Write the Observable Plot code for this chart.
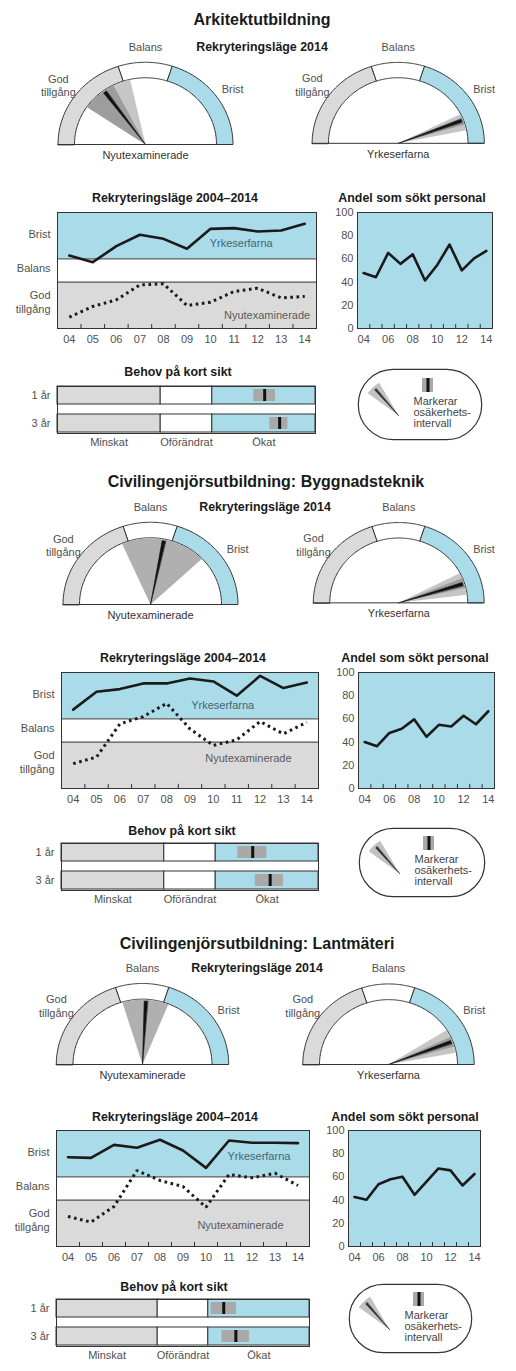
<!DOCTYPE html>
<html><head><meta charset="utf-8">
<script src="https://cdn.jsdelivr.net/npm/d3@7"></script>
<script src="https://cdn.jsdelivr.net/npm/@observablehq/plot@0.6"></script>
<style>
body{margin:0;background:#fff;}
#page{position:relative;width:516px;height:1371px;overflow:hidden;background:#fff;font-family:"Liberation Sans",Arial,Helvetica,sans-serif;}
.t{position:absolute;transform:translate(-50%,-50%);white-space:nowrap;color:#1a1a1a;font-weight:bold;line-height:1;}
</style></head><body><div id="page"></div>
<script>
// ---------- shared categories / labels ----------
const years = [2004, 2005, 2006, 2007, 2008, 2009, 2010, 2011, 2012, 2013, 2014];
const yearLabels = ["04", "05", "06", "07", "08", "09", "10", "11", "12", "13", "14"];
const andelYearLabels = ["04", "06", "08", "10", "12", "14"];
const andelTicks = [0, 20, 40, 60, 80, 100];
const bandEdges = [0, 40, 60, 100];
const levelNames = ["God\ntillgång", "Balans", "Brist"];
const behovNames = ["Minskat", "Oförändrat", "Ökat"];
const behovRows = ["1 år", "3 år"];
const groupNames = ["Nyutexaminerade", "Yrkeserfarna"];
const sectionTitles = ["Arkitektutbildning", "Civilingenjörsutbildning: Byggnadsteknik", "Civilingenjörsutbildning: Lantmäteri"];
const subTitle = "Rekryteringsläge 2014";
const lineTitle = "Rekryteringsläge 2004–2014";
const andelTitle = "Andel som sökt personal";
const behovTitle = "Behov på kort sikt";
const legendText = "Markerar\nosäkerhets-\nintervall";
const legendNeedle = 27;
const legendWedge = [20, 33];

// ---------- Arkitektutbildning ----------
const arkYrkeserfarna = [62.9, 57.2, 71.0, 80.8, 77.3, 68.7, 85.9, 86.5, 83.6, 84.5, 90.2];
const arkNyutexaminerade = [9.8, 19.0, 24.7, 37.6, 38.5, 19.8, 22.7, 31.9, 34.7, 26.4, 27.6];
const arkAndel = [47.8, 44.2, 65.2, 55.7, 64.0, 41.4, 54.8, 72.4, 50.1, 60.4, 66.9];
const arkGaugeNeedle = [30, 88.4];
const arkGaugeLow = [19, 85.3];
const arkGaugeHigh = [43, 93.6];
const arkGaugeCoreLow = [19, 87];
const arkGaugeCoreHigh = [35, 90.7];
const arkBehovMid = [80.3, 86.1];
const arkBehovLow = [76.1, 82.3];
const arkBehovHigh = [84.5, 89.3];

// ---------- Byggnadsteknik ----------
const byggYrkeserfarna = [68.0, 83.4, 85.7, 90.6, 90.6, 94.9, 92.3, 80.0, 97.1, 86.6, 91.4];
const byggNyutexaminerade = [21.4, 27.1, 55.7, 62.0, 73.4, 51.4, 37.1, 42.0, 57.7, 47.1, 57.1];
const byggAndel = [40.1, 36.5, 47.9, 51.5, 59.6, 44.6, 54.9, 53.5, 62.7, 55.4, 66.6];
const byggGaugeNeedle = [56.2, 90.3];
const byggGaugeLow = [36.8, 84.8];
const byggGaugeHigh = [75.9, 96];
const byggGaugeCoreLow = [null, 87.5];
const byggGaugeCoreHigh = [null, 92.5];
const byggBehovMid = [74.4, 81.2];
const byggBehovLow = [68.6, 75.4];
const byggBehovHigh = [79.9, 86.4];

// ---------- Lantmäteri ----------
const lantYrkeserfarna = [77.0, 76.4, 87.6, 85.1, 92.0, 82.8, 67.8, 91.4, 89.4, 89.4, 89.1];
const lantNyutexaminerade = [25.9, 21.0, 34.5, 65.5, 56.9, 51.7, 33.9, 62.1, 59.2, 63.2, 52.6];
const lantAndel = [42.6, 40.3, 53.7, 58.0, 60.2, 44.6, 56.0, 67.3, 65.6, 52.6, 62.5];
const lantGaugeNeedle = [51.6, 88.4];
const lantGaugeLow = [40.6, 82.1];
const lantGaugeHigh = [62.2, 94.2];
const lantGaugeCoreLow = [null, 86];
const lantGaugeCoreHigh = [null, 91];
const lantBehovMid = [66.1, 70.9];
const lantBehovLow = [61.1, 65.4];
const lantBehovHigh = [71.1, 76.3];

const sections = [
  {yrke: arkYrkeserfarna, nyut: arkNyutexaminerade, andel: arkAndel, needle: arkGaugeNeedle, lo: arkGaugeLow, hi: arkGaugeHigh, cLo: arkGaugeCoreLow, cHi: arkGaugeCoreHigh, bMid: arkBehovMid, bLo: arkBehovLow, bHi: arkBehovHigh},
  {yrke: byggYrkeserfarna, nyut: byggNyutexaminerade, andel: byggAndel, needle: byggGaugeNeedle, lo: byggGaugeLow, hi: byggGaugeHigh, cLo: byggGaugeCoreLow, cHi: byggGaugeCoreHigh, bMid: byggBehovMid, bLo: byggBehovLow, bHi: byggBehovHigh},
  {yrke: lantYrkeserfarna, nyut: lantNyutexaminerade, andel: lantAndel, needle: lantGaugeNeedle, lo: lantGaugeLow, hi: lantGaugeHigh, cLo: lantGaugeCoreLow, cHi: lantGaugeCoreHigh, bMid: lantBehovMid, bLo: lantBehovLow, bHi: lantBehovHigh}
];

// ---------- layout ----------
const layouts = [
  {title: [262, 20], sub: [262, 47], base: 144,
   gauges: [{cx: 144.5, rOut: 87.5, rIn: 71}, {cx: 398.5, rOut: 87, rIn: 70.5}],
   line: {left: 57, right: 316, top: 212, bottom: 328}, lineTitle: [175, 198],
   andel: {left: 357, right: 492}, andelTitle: [412, 198],
   behov: {left: 57, right: 315, top: 386, bottom: 433}, behovTitle: [178, 372],
   legend: {left: 357, right: 482, top: 368, bottom: 440},
   labYrke: [2011.3, 73], labNyut: [2012.4, 11]},
  {title: [266, 482], sub: [265, 507], base: 604,
   gauges: [{cx: 149.5, rOut: 87.5, rIn: 71}, {cx: 399.5, rOut: 86.7, rIn: 70}],
   line: {left: 61, right: 318, top: 672, bottom: 788}, lineTitle: [183, 658],
   andel: {left: 358, right: 494}, andelTitle: [415, 658],
   behov: {left: 61, right: 318, top: 843, bottom: 890}, behovTitle: [182, 831],
   legend: {left: 358, right: 485, top: 827, bottom: 897},
   labYrke: [2010.4, 72], labNyut: [2011.5, 26]},
  {title: [257, 944], sub: [257, 968], base: 1064,
   gauges: [{cx: 142.2, rOut: 86.2, rIn: 69.5}, {cx: 388.3, rOut: 85.7, rIn: 69}],
   line: {left: 56, right: 309, top: 1130, bottom: 1246}, lineTitle: [175, 1117],
   andel: {left: 348, right: 480}, andelTitle: [405, 1117],
   behov: {left: 56, right: 309, top: 1299, bottom: 1346}, behovTitle: [174, 1287],
   legend: {left: 348, right: 472, top: 1283, bottom: 1353},
   labYrke: [2012.3, 78], labNyut: [2011.5, 18]}
];

const BAND_FILL = ["#dadada", "#ffffff", "#aadbe8"];
const INK = "#1a1a1a";
const LABEL = "#505050";
const FONT = '"Liberation Sans", Arial, Helvetica, sans-serif';
const baseStyle = {fontFamily: FONT, fontSize: "11px", background: "transparent", overflow: "visible", color: "#333"};
const page = document.getElementById("page");
const half = years.slice(0, -1).map(y => y + 0.5);

function place(el, left, top) {
  const d = document.createElement("div");
  d.style.position = "absolute"; d.style.left = left + "px"; d.style.top = top + "px";
  d.appendChild(el); page.appendChild(d);
}
function title(text, pos, size) {
  const d = document.createElement("div");
  d.className = "t"; d.textContent = text;
  d.style.left = pos[0] + "px"; d.style.top = pos[1] + "px"; d.style.fontSize = size + "px";
  page.appendChild(d);
}
function polar(v, r, c = {x: 0, y: 0}) {
  const a = Math.PI * (1 - v / 100);
  return {x: c.x + r * Math.cos(a), y: c.y + r * Math.sin(a)};
}
function arc(v0, v1, r, c) {
  return d3.range(61).map(i => polar(v0 + (v1 - v0) * i / 60, r, c));
}

// ---------- gauge ----------
const K = 0.94; // vertical compression of the gauges
function gauge(g, needle, lo, hi, cLo, cHi, name, base) {
  const {cx, rOut, rIn} = g;
  const segs = d3.range(3).map(i => ({i, pts: [...arc(bandEdges[i], bandEdges[i + 1], rOut), ...arc(bandEdges[i + 1], bandEdges[i], rIn)]}));
  const hasCore = cLo != null;
  const wedge = [{x: 0, y: 0}, ...arc(lo, hi, rIn - 0.6)];
  const core = hasCore ? [{x: 0, y: 0}, ...arc(cLo, cHi, rIn - 0.6)] : null;
  const rN = rIn - 2, dv = 1.7 / (Math.PI * rN) * 100;
  const needlePts = [{x: 0, y: 0}, polar(needle - dv, rN), polar(needle + dv, rN)];
  const labels = levelNames.map((t, i) => {
    const v = (bandEdges[i] + bandEdges[i + 1]) / 2;
    const a = Math.PI * (1 - v / 100);
    const r = rOut + 17 + 4 * Math.abs(Math.cos(a));
    return {t, x: r * Math.cos(a), y: r * Math.sin(a) + (i === 2 ? -4 : 0)};
  });
  const W = 240, H = 135;
  const marks = [
    ...segs.map(s => Plot.line(s.pts, {x: "x", y: "y", fill: BAND_FILL[s.i], stroke: "#333", strokeWidth: 1, curve: "linear-closed"})),
    Plot.line(wedge, {x: "x", y: "y", fill: hasCore ? "#c6c6c6" : "#b0b0b0", stroke: "none", curve: "linear-closed"}),
    hasCore ? Plot.line(core, {x: "x", y: "y", fill: "#9d9d9d", stroke: "none", curve: "linear-closed"}) : null,
    Plot.line(needlePts, {x: "x", y: "y", fill: "#111", stroke: "#111", strokeWidth: 0.6, curve: "linear-closed"}),
    Plot.ruleY([0], {x1: -rOut, x2: rOut, stroke: "#333"}),
    Plot.text(labels, {x: "x", y: "y", text: "t", fill: LABEL, fontSize: 11, lineHeight: 1.25}),
    Plot.text([name], {x: 0, y: 0, dy: 11, text: d => d, fill: "#333", fontSize: 11})
  ].filter(Boolean);
  const p = Plot.plot({
    width: W, height: H, margin: 0,
    x: {domain: [-120, 120], axis: null},
    y: {domain: [-22 / K, 113 / K], axis: null},
    style: baseStyle, marks
  });
  place(p, cx - 120, base - 113);
}

// ---------- line chart ----------
function lineChart(L, yrke, nyut, labYrke, labNyut) {
  const data = years.map((yr, i) => ({yr, yrke: yrke[i], nyut: nyut[i]}));
  const bands = d3.range(3).map(i => ({lo: bandEdges[i], hi: bandEdges[i + 1], fill: BAND_FILL[i], name: levelNames[i]}));
  const mT = 2, mB = 24, mR = 10;
  const p = Plot.plot({
    width: L.right + mR, height: (L.bottom - L.top) + mT + mB,
    marginLeft: L.left, marginRight: mR, marginTop: mT, marginBottom: mB,
    x: {domain: [2003.5, 2014.5], axis: null},
    y: {domain: [0, 100], axis: null},
    color: {type: "identity"},
    style: baseStyle,
    marks: [
      Plot.rect(bands, {x1: 2003.5, x2: 2014.5, y1: "lo", y2: "hi", fill: "fill"}),
      Plot.ruleY(bandEdges.slice(1, -1), {stroke: "#333"}),
      Plot.ruleX(half, {y1: 0, y2: 3.5, stroke: "#333"}),
      Plot.line(data, {x: "yr", y: "nyut", stroke: INK, strokeWidth: 3, strokeDasharray: "2.6,3.6", strokeLinecap: "butt", strokeLinejoin: "miter"}),
      Plot.line(data, {x: "yr", y: "yrke", stroke: INK, strokeWidth: 2.6, strokeLinejoin: "round"}),
      Plot.text([groupNames[1]], {x: labYrke[0], y: labYrke[1], text: d => d, fill: "#3e6874", fontSize: 11}),
      Plot.text([groupNames[0]], {x: labNyut[0], y: labNyut[1], text: d => d, fill: "#5a5a5a", fontSize: 11}),
      Plot.text(bands, {x: 2003.5, y: d => (d.lo + d.hi) / 2 + (d.name.includes("\n") ? 3 : 2), text: "name", textAnchor: "end", dx: -7, fill: LABEL, lineHeight: 1.2, fontSize: 11}),
      Plot.text(years, {x: d => d, y: 0, dy: 11, text: (d, i) => yearLabels[i], fill: LABEL, fontSize: 11}),
      Plot.frame({stroke: "#333"})
    ]
  });
  place(p, 0, L.top - mT);
}

// ---------- andel chart ----------
function andelChart(A, L, vals) {
  const data = years.map((yr, i) => ({yr, v: vals[i]}));
  const even = years.filter((y, i) => i % 2 === 0);
  const mL = 32, mR = 8, mT = 2, mB = 24;
  const p = Plot.plot({
    width: (A.right - A.left) + mL + mR, height: (L.bottom - L.top) + mT + mB,
    marginLeft: mL, marginRight: mR, marginTop: mT, marginBottom: mB,
    x: {domain: [2003.5, 2014.5], axis: null},
    y: {domain: [0, 100], axis: null},
    style: baseStyle,
    marks: [
      Plot.frame({fill: BAND_FILL[2], stroke: "none"}),
      Plot.ruleX(half, {y1: 0, y2: 3.5, stroke: "#333"}),
      Plot.line(data, {x: "yr", y: "v", stroke: INK, strokeWidth: 2.6, strokeLinejoin: "round"}),
      Plot.text(andelTicks, {x: 2003.5, y: d => d, dx: -4, textAnchor: "end", text: d => String(d), fill: LABEL, fontSize: 11}),
      Plot.text(even, {x: d => d, y: 0, dy: 11, text: (d, i) => andelYearLabels[i], fill: LABEL, fontSize: 11}),
      Plot.frame({stroke: "#333"})
    ]
  });
  place(p, A.left - mL, L.top - mT);
}

// ---------- behov chart ----------
function behovChart(B, lo, mid, hi) {
  const cells = behovRows.flatMap(row => d3.range(3).map(i => ({row, x1: bandEdges[i], x2: bandEdges[i + 1], fill: BAND_FILL[i]})));
  const ivals = behovRows.map((row, i) => ({row, lo: lo[i], mid: mid[i], hi: hi[i]}));
  const mT = 1, mB = 22, mR = 10;
  const p = Plot.plot({
    width: B.right + mR, height: (B.bottom - B.top) + mT + mB,
    marginLeft: B.left, marginRight: mR, marginTop: mT, marginBottom: mB,
    x: {domain: [0, 100], axis: null},
    y: {domain: behovRows, axis: null, paddingInner: 0.35, paddingOuter: 0},
    color: {type: "identity"},
    style: baseStyle,
    marks: [
      Plot.barX(cells, {x1: "x1", x2: "x2", y: "row", fill: "fill", stroke: "#333"}),
      Plot.barX(ivals, {x1: "lo", x2: "hi", y: "row", fill: "#a9a9a9", insetTop: 3, insetBottom: 3}),
      Plot.tickX(ivals, {x: "mid", y: "row", stroke: "#111", strokeWidth: 3, insetTop: 3, insetBottom: 3}),
      Plot.text(behovRows, {x: 0, y: d => d, dx: -7, textAnchor: "end", text: d => d, fill: LABEL, fontSize: 11}),
      Plot.text(behovNames, {x: (d, i) => (bandEdges[i] + bandEdges[i + 1]) / 2, frameAnchor: "bottom", dy: 12, text: d => d, fill: LABEL, fontSize: 11}),
      Plot.frame({stroke: "#333"})
    ]
  });
  place(p, 0, B.top - mT);
}

// ---------- legend ----------
function legendBox(G) {
  const W = G.right - G.left, H = G.bottom - G.top;
  const c = {x: 41, y: H / 2 - 11};
  const r = 38;
  const wedge = [c, ...arc(legendWedge[0], legendWedge[1], r, c)];
  const dv = 1.0 / (Math.PI * r) * 100;
  const needle = [c, polar(legendNeedle - dv, r - 3, c), polar(legendNeedle + dv, r - 3, c)];
  const bar = [{x1: 65, x2: 76, y1: H / 2 + 12, y2: H / 2 + 26, mid: 70.5}];
  const p = Plot.plot({
    width: W, height: H, margin: 0,
    x: {domain: [0, W], axis: null},
    y: {domain: [0, H], axis: null},
    style: baseStyle,
    marks: [
      Plot.frame({stroke: "#333", strokeWidth: 1.2, rx: H / 2 - 1, inset: 0.8}),
      Plot.line(wedge, {x: "x", y: "y", fill: "#c2c2c2", stroke: "none", curve: "linear-closed"}),
      Plot.line(needle, {x: "x", y: "y", fill: "#222", stroke: "#222", strokeWidth: 0.6, curve: "linear-closed"}),
      Plot.rect(bar, {x1: "x1", x2: "x2", y1: "y1", y2: "y2", fill: "#a9a9a9"}),
      Plot.ruleX(bar, {x: "mid", y1: "y1", y2: "y2", stroke: "#111", strokeWidth: 3}),
      Plot.text([legendText], {x: 56, y: H / 2 - 8, text: d => d, textAnchor: "start", lineHeight: 1.0, fill: "#444", fontSize: 11})
    ]
  });
  place(p, G.left, G.top);
}

// ---------- build ----------
sections.forEach((S, si) => {
  const Lo = layouts[si];
  title(sectionTitles[si], Lo.title, 16);
  title(subTitle, Lo.sub, 12.4);
  Lo.gauges.forEach((g, gi) => gauge(g, S.needle[gi], S.lo[gi], S.hi[gi], S.cLo[gi], S.cHi[gi], groupNames[gi], Lo.base));
  title(lineTitle, Lo.lineTitle, 12.4);
  title(andelTitle, Lo.andelTitle, 12.4);
  lineChart(Lo.line, S.yrke, S.nyut, Lo.labYrke, Lo.labNyut);
  andelChart(Lo.andel, Lo.line, S.andel);
  title(behovTitle, Lo.behovTitle, 12.4);
  behovChart(Lo.behov, S.bLo, S.bMid, S.bHi);
  legendBox(Lo.legend);
});
// keep titles on top of the charts
document.querySelectorAll(".t").forEach(t => page.appendChild(t));
</script>
</body></html>
